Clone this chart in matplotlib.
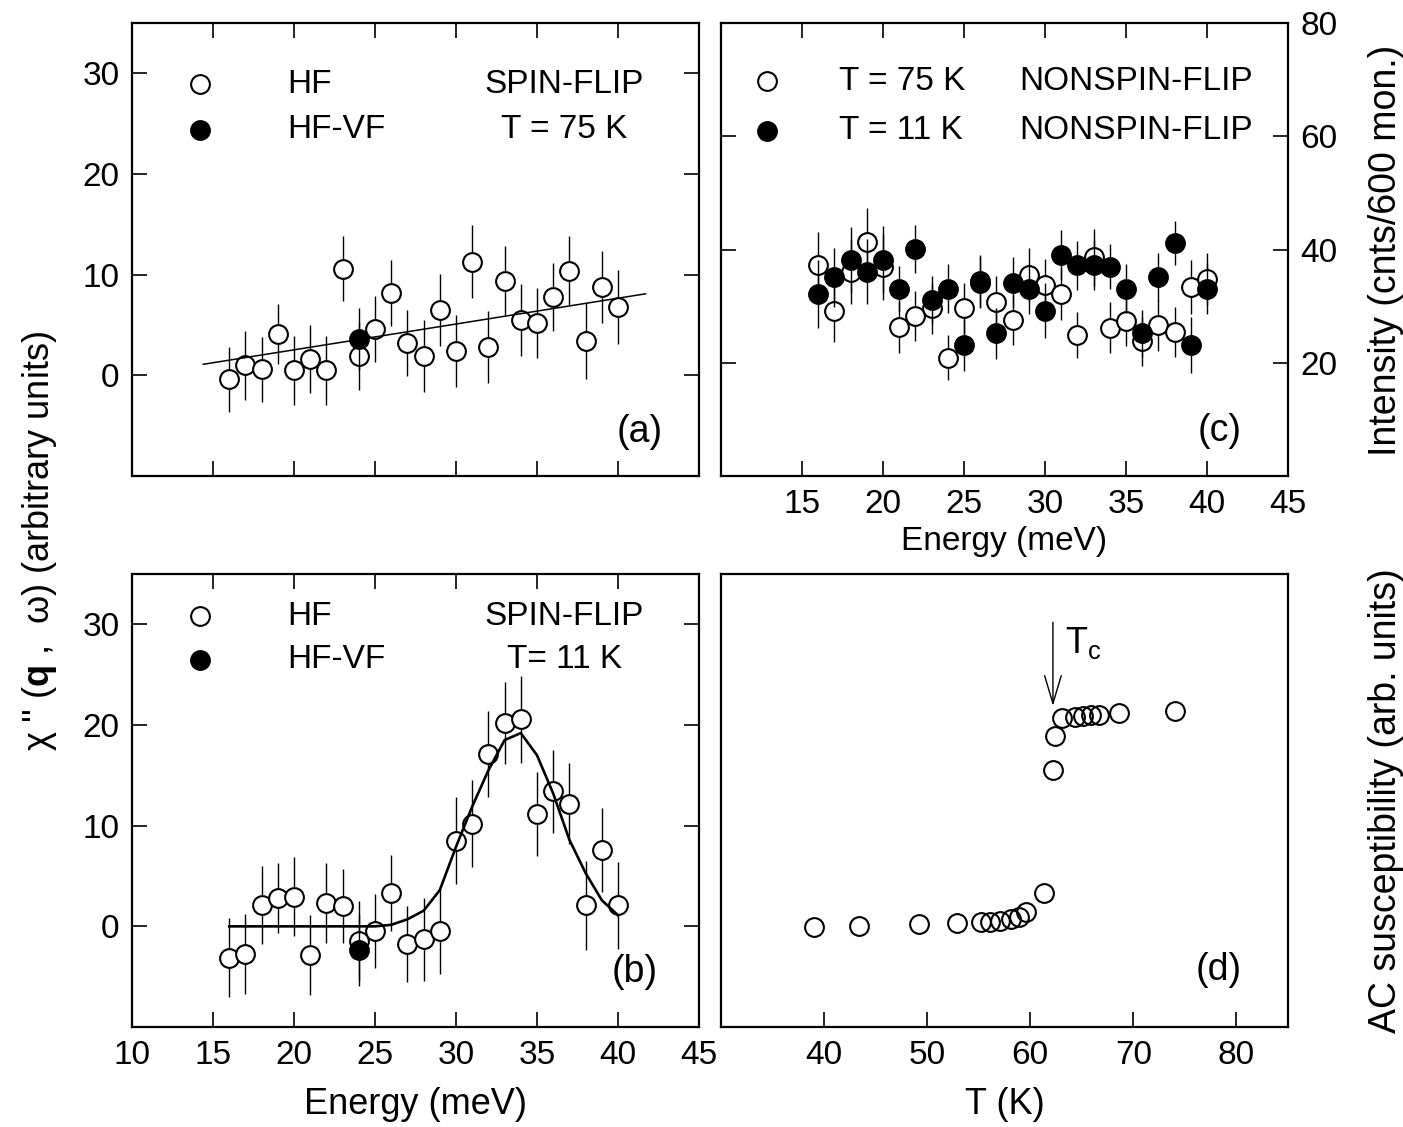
import matplotlib
matplotlib.use('Agg')
import matplotlib.pyplot as plt

plt.rcParams['font.family'] = ['Liberation Sans', 'DejaVu Sans']
plt.rcParams['mathtext.fontset'] = 'custom'
plt.rcParams['mathtext.rm'] = 'Liberation Sans'
plt.rcParams['mathtext.it'] = 'Liberation Sans:italic'
plt.rcParams['mathtext.bf'] = 'Liberation Sans:bold'

# energies (meV) used in panels a-c
energy = [16, 17, 18, 19, 20, 21, 22, 23, 24, 25, 26, 27, 28,
          29, 30, 31, 32, 33, 34, 35, 36, 37, 38, 39, 40]

# (a) spin-flip, T = 75 K
a_hf = [-0.4, 1.0, 0.6, 4.1, 0.5, 1.6, 0.5, 10.6, 1.9, 4.6, 8.2, 3.2, 1.9,
        6.5, 2.4, 11.3, 2.8, 9.4, 5.5, 5.2, 7.8, 10.4, 3.4, 8.8, 6.8]
a_hf_err = [3.2, 3.4, 3.2, 3.0, 3.4, 3.4, 3.4, 3.2, 3.4, 3.3, 3.3, 3.3, 3.6,
            3.6, 3.6, 3.6, 3.6, 3.4, 3.6, 3.5, 3.4, 3.4, 3.8, 3.6, 3.7]
a_vf_energy = [24]
a_vf = [3.6]
a_vf_err = [3.1]
a_fit_energy = [14.4, 41.7]
a_fit = [1.1, 8.1]

# (b) spin-flip, T = 11 K
b_hf = [-3.1, -2.75, 2.1, 2.8, 2.95, -2.85, 2.3, 2.0, -1.45, -0.45, 3.3, -1.75, -1.3,
        -0.5, 8.5, 10.2, 17.1, 20.2, 20.55, 11.15, 13.4, 12.2, 2.1, 7.6, 2.1]
b_hf_err = [3.9, 4.0, 3.9, 3.5, 3.9, 4.0, 4.0, 3.7, 4.0, 3.7, 3.8, 3.8, 4.1,
            4.2, 4.3, 4.3, 4.3, 4.1, 4.3, 4.2, 4.1, 4.0, 4.4, 4.2, 4.3]
b_vf_energy = [24]
b_vf = [-2.35]
b_vf_err = [3.6]
b_fit = [0, 0, 0, 0, 0, 0, 0, 0, 0, 0, 0.15, 0.7, 1.55,
         3.6, 7.9, 11.9, 15.5, 18.5, 19.2, 17.0, 13.2, 8.6, 5.3, 2.6, 1.1]

# (c) non-spin-flip intensity (cnts/600 mon.)
c_75k = [37.2, 29.2, 36.1, 41.3, 36.9, 26.3, 28.3, 29.6, 20.9, 29.6, 34.5, 30.8, 27.5,
         35.5, 33.7, 32.2, 24.9, 38.6, 26.2, 27.4, 23.8, 26.6, 25.5, 33.4, 34.8]
c_75k_err = [5.9, 5.5, 5.8, 6.0, 5.8, 4.6, 4.4, 4.5, 4.0, 4.5, 4.6, 4.6, 4.4,
             4.7, 4.6, 4.6, 4.0, 5.0, 4.5, 4.4, 4.3, 4.5, 4.4, 4.8, 4.6]
c_11k = [32.2, 35.1, 38.2, 36.1, 38.2, 33.1, 40.1, 31.1, 33.1, 23.1, 34.1, 25.2, 34.1,
         33.1, 29.2, 39.1, 37.2, 37.2, 37.0, 33.1, 25.2, 35.1, 41.1, 23.1, 33.1]
c_11k_err = [6.0, 5.2, 5.8, 5.8, 5.9, 4.0, 4.3, 4.3, 4.3, 4.6, 4.5, 4.5, 4.5,
             4.4, 4.9, 4.4, 4.3, 4.4, 3.9, 4.3, 4.1, 4.2, 3.9, 4.9, 4.5]

# (d) AC susceptibility vs temperature
d_temp = [39.0, 43.4, 49.2, 52.9, 55.2, 56.1, 57.1, 58.1, 58.9, 59.6, 61.3,
          62.2, 62.4, 63.1, 64.3, 65.1, 65.9, 66.7, 68.6, 74.0]
d_chi = [-0.1, 0.06, 0.2, 0.36, 0.46, 0.46, 0.56, 0.7, 0.96, 1.45, 3.3,
         15.5, 18.9, 20.7, 20.8, 20.9, 21.0, 21.0, 21.2, 21.4]
tc = 62.2

FS = 24
MS = 13.5


def data_points(ax, x, y, yerr, filled):
    face = 'black' if filled else 'white'
    ax.errorbar(x, y, yerr=yerr, fmt='o', ms=MS, mfc=face, mec='black', mew=1.5,
                ecolor='black', elinewidth=1.0, capsize=0, zorder=3 if filled else 2)


def frame(ax):
    for s in ax.spines.values():
        s.set_linewidth(1.6)
    ax.tick_params(direction='in', length=11, width=1.2, top=True, right=True,
                   labelsize=FS, pad=9)


fig = plt.figure(figsize=(14.03, 11.27), dpi=100)
axa = fig.add_axes([0.0941, 0.5776, 0.4041, 0.4020])
axb = fig.add_axes([0.0941, 0.0887, 0.4041, 0.4020])
axc = fig.add_axes([0.5139, 0.5776, 0.4041, 0.4020])
axd = fig.add_axes([0.5139, 0.0887, 0.4041, 0.4020])

# ---- (a)
data_points(axa, energy, a_hf, a_hf_err, False)
data_points(axa, a_vf_energy, a_vf, a_vf_err, True)
axa.plot(a_fit_energy, a_fit, color='black', lw=1.1, zorder=4)
axa.set_xlim(10, 45)
axa.set_ylim(-10, 35)
axa.set_xticks([15, 20, 25, 30, 35, 40])
axa.set_yticks([0, 10, 20, 30])
frame(axa)
axa.tick_params(labelbottom=False)
axa.plot([14.2], [28.9], 'o', ms=MS, mfc='white', mec='black', mew=1.5)
axa.plot([14.2], [24.4], 'o', ms=MS, mfc='black', mec='black', mew=1.5)
axa.text(19.6, 28.9, 'HF', fontsize=FS, va='center')
axa.text(19.6, 24.4, 'HF-VF', fontsize=FS, va='center')
axa.text(36.7, 28.9, 'SPIN-FLIP', fontsize=FS, va='center', ha='center')
axa.text(36.7, 24.4, 'T = 75 K', fontsize=FS, va='center', ha='center')
axa.text(0.896, 0.097, '(a)', transform=axa.transAxes, fontsize=27, ha='center', va='center')

# ---- (b)
data_points(axb, energy, b_hf, b_hf_err, False)
data_points(axb, b_vf_energy, b_vf, b_vf_err, True)
axb.plot(energy, b_fit, color='black', lw=1.9, zorder=4)
axb.set_xlim(10, 45)
axb.set_ylim(-10, 35)
axb.set_xticks([10, 15, 20, 25, 30, 35, 40, 45])
axb.set_yticks([0, 10, 20, 30])
frame(axb)
axb.plot([14.2], [30.8], 'o', ms=MS, mfc='white', mec='black', mew=1.5)
axb.plot([14.2], [26.5], 'o', ms=MS, mfc='black', mec='black', mew=1.5)
axb.text(19.6, 30.8, 'HF', fontsize=FS, va='center')
axb.text(19.6, 26.5, 'HF-VF', fontsize=FS, va='center')
axb.text(36.7, 30.8, 'SPIN-FLIP', fontsize=FS, va='center', ha='center')
axb.text(36.7, 26.5, 'T= 11 K', fontsize=FS, va='center', ha='center')
axb.text(0.887, 0.121, '(b)', transform=axb.transAxes, fontsize=27, ha='center', va='center')
axb.set_xlabel('Energy (meV)', fontsize=26, labelpad=12)

# ---- (c)
data_points(axc, energy, c_75k, c_75k_err, False)
data_points(axc, energy, c_11k, c_11k_err, True)
axc.set_xlim(10, 45)
axc.set_ylim(0, 80)
axc.set_xticks([15, 20, 25, 30, 35, 40, 45])
axc.set_yticks([20, 40, 60, 80])
frame(axc)
axc.tick_params(labelleft=False, labelright=True)
axc.plot([12.84], [69.7], 'o', ms=MS, mfc='white', mec='black', mew=1.5)
axc.plot([12.84], [61.0], 'o', ms=MS, mfc='black', mec='black', mew=1.5)
axc.text(17.3, 69.7, 'T = 75 K', fontsize=FS, va='center')
axc.text(17.3, 61.0, 'T = 11 K', fontsize=FS, va='center')
axc.text(28.4, 69.7, 'NONSPIN-FLIP', fontsize=FS, va='center')
axc.text(28.4, 61.0, 'NONSPIN-FLIP', fontsize=FS, va='center')
axc.text(0.88, 0.10, '(c)', transform=axc.transAxes, fontsize=27, ha='center', va='center')
axc.set_xlabel('Energy (meV)', fontsize=FS, labelpad=5)

# ---- (d)
axd.plot(d_temp, d_chi, 'o', ms=MS, mfc='none', mec='black', mew=1.5)
axd.set_xlim(30, 85)
axd.set_ylim(-10, 35)
axd.set_xticks([40, 50, 60, 70, 80])
axd.set_yticks([])
frame(axd)
axd.tick_params(top=False)
axd.annotate('', xy=(tc, 21.9), xytext=(tc, 30.2),
             arrowprops=dict(arrowstyle='->,head_length=1.0,head_width=0.3',
                             lw=1.0, color='black', mutation_scale=20,
                             shrinkA=0, shrinkB=0))
axd.text(63.4, 27.2, r'T$_\mathrm{c}$', fontsize=26, va='baseline')
axd.text(0.878, 0.126, '(d)', transform=axd.transAxes, fontsize=27, ha='center', va='center')
axd.set_xlabel('T (K)', fontsize=26, labelpad=12)

# shared / side labels
fig.text(0.028, 0.52, "χ '' ($\\mathbf{q}$ ,  ω) (arbitrary units)", rotation=90,
         fontsize=26, ha='center', va='center')
fig.text(0.988, 0.778, 'Intensity (cnts/600 mon.)', rotation=90,
         fontsize=27, ha='center', va='center')
fig.text(0.988, 0.29, 'AC susceptibility (arb. units)', rotation=90,
         fontsize=27, ha='center', va='center')

fig.savefig('out.png', dpi=100)
